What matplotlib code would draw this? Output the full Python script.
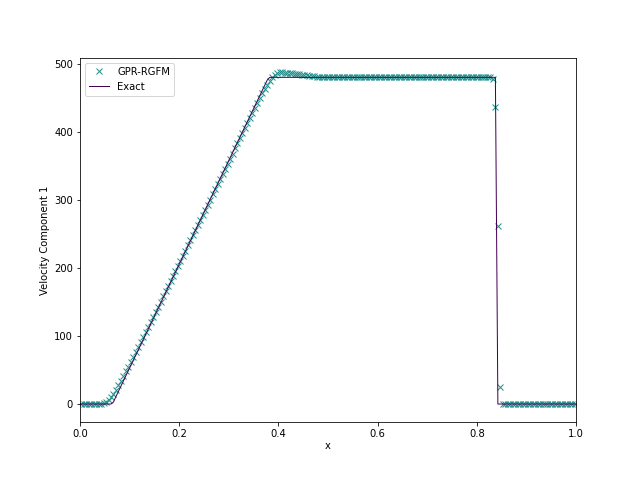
import numpy as np
import matplotlib
matplotlib.use("Agg")
import matplotlib.pyplot as plt

# GPR-RGFM solution on 200 cell centres
n_cells = 200
x_cells = (np.arange(n_cells) + 0.5) / n_cells

u_num = (
    [0.0] * 8
    + [0.5, 1.5, 3, 6, 10, 15, 21, 27.5, 34, 41, 48, 55, 62, 69, 76.5, 84, 91, 98.5, 106]
    + [113, 120.5, 128, 135.5, 143, 150.5, 158, 165.5, 173, 180.5,
       188, 195.5, 203, 210.5, 218, 225.5, 233, 240.5, 248, 255.5,
       263, 270.5, 278, 285.5, 293, 300.5, 308, 315.5, 323, 330.5,
       338, 345.5, 353, 360.5, 368, 375.5, 383, 390.5, 398, 405.5,
       413, 420.5, 428, 435.5, 443]
    + [450, 457, 463, 469, 475, 480, 484, 486.5, 487.5, 487.5, 487, 487,
       486.5, 486, 485.5, 485, 484.5, 484, 483.5, 483, 482.5, 482, 481.5]
    + [481.0] * 71
    + [477, 437, 262, 25]
    + [0.0] * 30
)

# exact solution (breakpoints)
x_exact = [0.0, 0.0625, 0.0675, 0.0725, 0.3775, 0.3825, 0.8375, 0.8425, 1.0]
u_exact = [0.0, 0.0, 3.0, 11.0, 476.0, 480.0, 480.0, 0.0, 0.0]

fig, ax = plt.subplots(figsize=(640 / 72, 480 / 72), dpi=72)
fig.subplots_adjust(bottom=0.12, top=0.88)
ax.plot(x_cells, u_num, "x", color="#21918c", markersize=6, label="GPR-RGFM")
ax.plot(x_exact, u_exact, "-", color="#440154", linewidth=1.0, label="Exact")
ax.set_xlim(0, 1)
ax.set_ylim(-27, 509)
ax.set_xlabel("x", labelpad=2)
ax.set_ylabel("Velocity Component 1")
ax.legend(loc="upper left")
fig.savefig("out.png", dpi=72)
